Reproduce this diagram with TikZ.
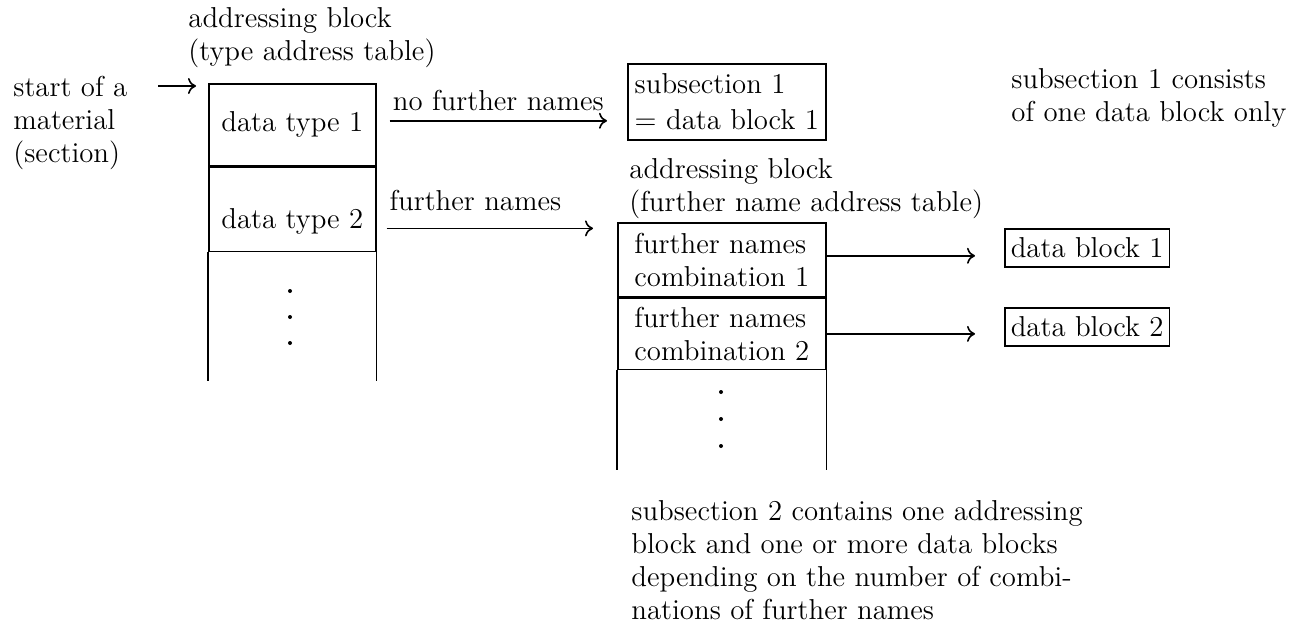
\documentclass[tikz,border=0pt]{standalone}
\usepackage{fontspec}
\usepackage{tikz}
\usetikzlibrary{arrows.meta,positioning}

\begin{document}
\begin{tikzpicture}[x=0.5pt, y=-0.5pt,
                    font=\fontsize{14.4}{16.5}\selectfont,
                    >={To[length=4pt,width=8pt]},
                    CELL/.style={rectangle, draw, thick, inner sep=0pt, align=left},
                    BLOCK/.style={rectangle, draw, thick, inner xsep=3pt, inner ysep=0pt, minimum height=19pt, align=left},
                    NOTE/.style={inner sep=0pt, align=left},
                ]
                \useasboundingbox (0,0) rectangle (1301,627);

                % type address table
                \node[CELL, minimum width=83.5pt, minimum height=41pt, anchor=north west] (TypeOne) at (208,83) {data type 1};
                \node[CELL, minimum width=83.5pt, minimum height=42pt, text height=22pt, anchor=north west] (TypeTwo) at (TypeOne.south west) {data type 2};
                \draw[thick] (TypeTwo.south west) -- ++(0,129);
                \draw[thick] (TypeTwo.south east) -- ++(0,129);
                \foreach \y in {291,317,343}
                    \fill (290,\y) circle (1pt);
                \node[NOTE, above=7.5pt of TypeOne.north west, anchor=south west, xshift=-10pt] (TypeTable) {addressing block\\(type address table)};

                \node[NOTE, anchor=north west] (Start) at (13,76) {start of a\\material\\(section)};
                \coordinate (StartTail) at (158,86);
                \draw[->, thick] (StartTail) -- ([xshift=-6pt,yshift=-1.5pt]TypeOne.north west);

                % subsection 1
                \node[CELL, minimum width=99pt, minimum height=38pt, inner xsep=2pt, anchor=north west,
                      font=\fontsize{14.4}{18}\selectfont] (SubOne) at (627,63) {subsection 1\\= data block 1};
                \node[NOTE, anchor=north west] (SubOneNote) at (1011,68) {subsection 1 consists\\of one data block only};
                \draw[->, thick] ([xshift=6.5pt,yshift=2pt]TypeOne.east) to node[above=1.5pt] {no further names} ([xshift=-10pt,yshift=2pt]TypeOne.east -| SubOne.west);

                % further name address table
                \node[CELL, minimum width=104pt, minimum height=37pt, anchor=north west] (CombOne) at (617,222) {further names\\combination 1};
                \node[CELL, minimum width=104pt, minimum height=35.5pt, anchor=north west] (CombTwo) at (CombOne.south west) {further names\\combination 2};
                \draw[thick] (CombTwo.south west) -- ++(0,100);
                \draw[thick] (CombTwo.south east) -- ++(0,100);
                \foreach \y in {392,419,446}
                    \fill (721,\y) circle (1pt);
                \node[NOTE, above=1.5pt of CombOne.north west, anchor=south west, xshift=6pt] (NameTable) {addressing block\\(further name address table)};
                \draw[->, thick] ([xshift=5pt,yshift=-9.5pt]TypeTwo.east) to node[above=5pt, pos=0.43] {further names} ([xshift=-12pt,yshift=-9.5pt]TypeTwo.east -| CombOne.west);

                % data blocks
                \node[BLOCK, anchor=west] (DataOne) at (1004,248) {data block 1};
                \node[BLOCK, anchor=west] (DataTwo) at (1004,327) {data block 2};
                \draw[->, thick] ([yshift=2pt]CombOne.east) to ([xshift=-14.5pt,yshift=2pt]CombOne.east -| DataOne.west);
                \draw[->, thick] (CombTwo.east) to ([xshift=-14.5pt]CombTwo.east -| DataTwo.west);

                \node[NOTE, anchor=north west] (SubTwoNote) at (631,500) {subsection 2 contains one addressing\\block and one or more data blocks\\depending on the number of combi-\\nations of further names};

            \end{tikzpicture}
\end{document}
